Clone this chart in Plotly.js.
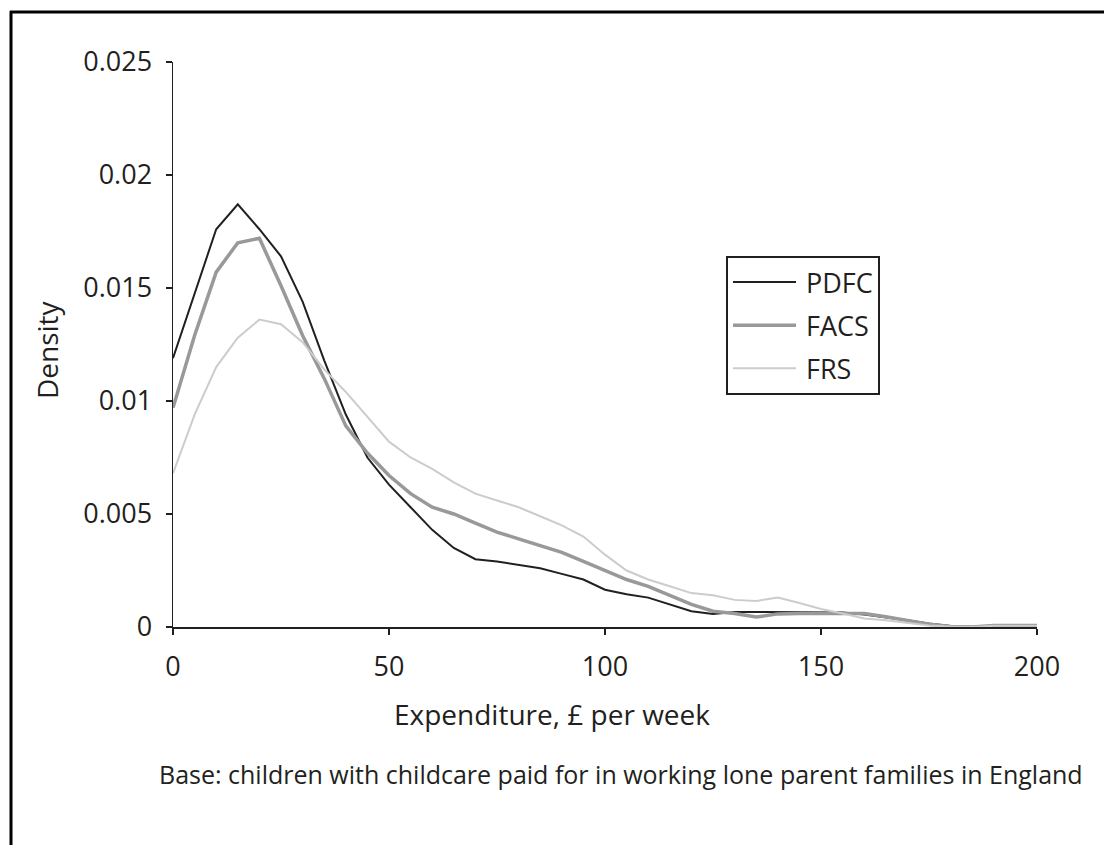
<!DOCTYPE html>
<html>
<head>
<meta charset="utf-8">
<script src="https://cdn.plot.ly/plotly-3.0.1.min.js"></script>
<style>html,body{margin:0;padding:0;background:#fff;}#chart{width:1104px;height:845px;}</style>
</head>
<body>
<div id="chart"></div>
<script>
// Expenditure (£ per week)
const expenditure = [0,5,10,15,20,25,30,35,40,45,50,55,60,65,70,75,80,85,90,95,100,105,110,115,120,125,130,135,140,145,150,155,160,165,170,175,180,185,190,195,200];
const pdfc = [0.0119,0.0148,0.0176,0.0187,0.0176,0.0164,0.0144,0.0118,0.0094,0.0075,0.0063,0.0053,0.0043,0.0035,0.0030,0.0029,0.00275,0.0026,0.00235,0.0021,0.00165,0.00145,0.0013,0.0010,0.0007,0.00058,0.00066,0.00066,0.00066,0.00066,0.00066,0.00064,0.00055,0.00043,0.0003,0.00015,0.00004,0.0,0.00005,0.00005,0.00005];
const facs = [0.0097,0.0129,0.0157,0.0170,0.0172,0.0151,0.0129,0.0110,0.0089,0.0077,0.0067,0.0059,0.0053,0.0050,0.0046,0.0042,0.0039,0.0036,0.0033,0.0029,0.0025,0.0021,0.0018,0.0014,0.0010,0.0007,0.0006,0.00044,0.00058,0.0006,0.0006,0.00062,0.0006,0.00045,0.0003,0.00012,0.00002,0.0,0.00007,0.00007,0.00007];
const frs = [0.0068,0.0094,0.0115,0.0128,0.0136,0.0134,0.0126,0.0114,0.0104,0.0093,0.0082,0.0075,0.0070,0.0064,0.0059,0.0056,0.0053,0.0049,0.0045,0.0040,0.0032,0.0025,0.0021,0.0018,0.0015,0.0014,0.0012,0.00115,0.0013,0.00106,0.0008,0.0006,0.00038,0.0003,0.0002,0.00007,0.00002,0.0,0.00005,0.00005,0.00005];
const seriesNames = ['PDFC','FACS','FRS'];
const xTickVals = [0,50,100,150,200];
const yTickVals = [0,0.005,0.01,0.015,0.02,0.025];
const yTickText = ['0','0.005','0.01','0.015','0.02','0.025'];

const ink = '#231f20';
const fam = '"Open Sans", "Noto Sans", sans-serif';
const tickFont = {family: fam, size: 27, color: ink};
const titleFont = {family: fam, size: 28, color: ink};
const noteFont = {family: fam, size: 25, color: ink};

const W = 1104, H = 845;
const L = 173, R = 1037, T = 62, B = 627;
const px = x => (x - L) / (R - L);
const py = y => (B - y) / (B - T);

const traces = [
  {x: expenditure, y: pdfc, name: seriesNames[0], legendgroup: 'a', mode: 'lines', line: {color: '#231f20', width: 2}},
  {x: expenditure, y: facs, name: seriesNames[1], legendgroup: 'b', mode: 'lines', line: {color: '#999999', width: 3.5}},
  {x: expenditure, y: frs, name: seriesNames[2], legendgroup: 'c', mode: 'lines', line: {color: '#cccccc', width: 2}}
];

const layout = {
  width: W, height: H,
  margin: {l: L, r: W - R, t: T, b: H - B, pad: 0},
  paper_bgcolor: '#fff', plot_bgcolor: '#fff',
  font: tickFont,
  showlegend: true,
  legend: {
    x: px(726), y: py(256), xanchor: 'left', yanchor: 'top',
    bgcolor: '#fff', bordercolor: ink, borderwidth: 2,
    font: tickFont, traceorder: 'grouped', tracegroupgap: 5, itemwidth: 68
  },
  xaxis: {
    range: [0, 200], tickvals: xTickVals, ticktext: xTickVals.map(String),
    showline: true, linecolor: ink, linewidth: 1.5, mirror: false,
    ticks: 'outside', ticklen: 6, tickwidth: 1.2, tickcolor: ink,
    showgrid: false, zeroline: false, tickfont: tickFont, ticklabelstandoff: 9
  },
  yaxis: {
    range: [0, 0.025], tickvals: yTickVals, ticktext: yTickText,
    showline: true, linecolor: ink, linewidth: 1.5,
    ticks: 'outside', ticklen: 6, tickwidth: 1.2, tickcolor: ink,
    showgrid: false, zeroline: false, tickfont: tickFont, ticklabelstandoff: 8
  },
  annotations: [
    {text: 'Expenditure, £ per week', xref: 'paper', yref: 'paper', x: px(552), y: py(714), xanchor: 'center', yanchor: 'middle', showarrow: false, font: titleFont},
    {text: 'Density', xref: 'paper', yref: 'paper', x: px(47), y: py(349), xanchor: 'center', yanchor: 'middle', textangle: -90, showarrow: false, font: titleFont},
    {text: 'Base: children with childcare paid for in working lone parent families in England', xref: 'paper', yref: 'paper', x: px(621), y: py(774), xanchor: 'center', yanchor: 'middle', showarrow: false, font: noteFont}
  ],
  shapes: [
    {type: 'line', xref: 'paper', yref: 'paper', x0: px(10), x1: px(1110), y0: py(12), y1: py(12), line: {color: '#000', width: 3}},
    {type: 'line', xref: 'paper', yref: 'paper', x0: px(11), x1: px(11), y0: py(11), y1: py(850), line: {color: '#000', width: 3}}
  ]
};

Plotly.newPlot('chart', traces, layout, {displayModeBar: false, staticPlot: true}).then(gd => {
  // lengthen the legend sample lines to match the reference key
  gd.querySelectorAll('.legend .legendlines path').forEach(p => p.setAttribute('d', 'M5,0h63'));
});
</script>
</body>
</html>
